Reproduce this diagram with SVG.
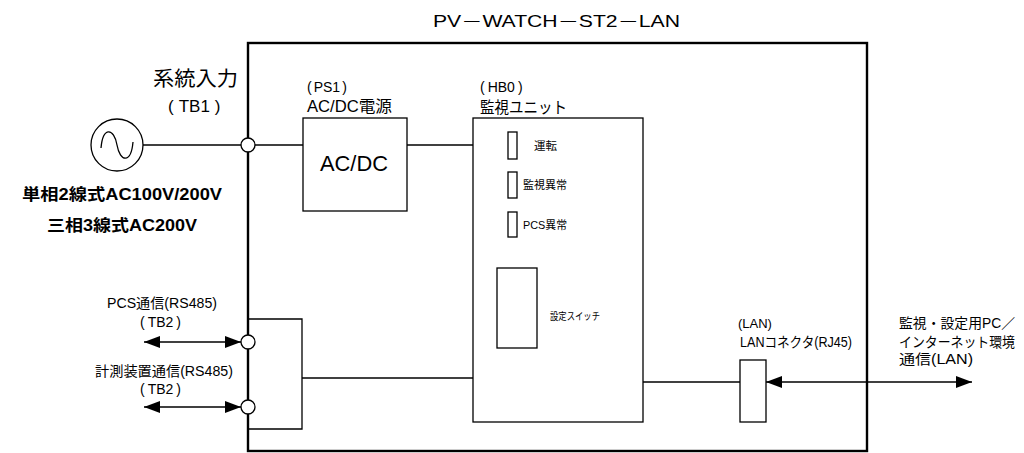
<svg xmlns="http://www.w3.org/2000/svg" width="1024" height="453" viewBox="0 0 1024 453">
<defs>
<style>
text{font-family:"Liberation Sans","Noto Sans CJK JP",sans-serif;fill:#000}
.ln{stroke:#000;stroke-width:1.3;fill:none}
.bx{stroke:#000;stroke-width:1.3;fill:#fff}
.term{stroke:#000;stroke-width:1.3;fill:#fff}
</style>
<marker id="ah" viewBox="0 0 16 12" refX="16" refY="6" markerWidth="16" markerHeight="12" markerUnits="userSpaceOnUse" orient="auto-start-reverse">
<path d="M0,0 L16,6 L0,12 Z" fill="#000"/>
</marker>
</defs>
<rect width="1024" height="453" fill="#fff"/>
<g id="title"><text x="433" y="27" font-size="16" textLength="247" lengthAdjust="spacingAndGlyphs">PV－WATCH－ST2－LAN</text></g>
<g id="outer"><rect x="248" y="43" width="619" height="408" fill="none" stroke="#000" stroke-width="2.4"/></g>
<g id="connectors">
<path class="ln" d="M143,145 H303"/>
<path class="ln" d="M407,145 H473"/>
<path class="ln" d="M248,319 H302 V429 H248"/>
<path class="ln" d="M302,378 H473"/>
<path class="ln" d="M643,382 H740"/>
<path class="ln" d="M144,342 H241" marker-start="url(#ah)" marker-end="url(#ah)"/>
<path class="ln" d="M144,407 H241" marker-start="url(#ah)" marker-end="url(#ah)"/>
<path class="ln" d="M766,382 H972" marker-start="url(#ah)" marker-end="url(#ah)"/>
</g>
<g id="source">
<circle cx="117" cy="145" r="26" class="bx"/>
<path class="ln" d="M101,148 C103,126 114,128 117,145 C120,162 131,164 133,142"/>
<text x="153" y="86" font-size="20" textLength="85" lengthAdjust="spacingAndGlyphs">系統入力</text>
<text x="168" y="112" font-size="17">(<tspan dx="5">TB1</tspan><tspan dx="5">)</tspan></text>
<text x="22" y="200" font-size="16" font-weight="bold" textLength="200" lengthAdjust="spacingAndGlyphs">単相2線式AC100V/200V</text>
<text x="47" y="231" font-size="16" font-weight="bold" textLength="150" lengthAdjust="spacingAndGlyphs">三相3線式AC200V</text>
</g>
<g id="tb1"><circle cx="248" cy="145" r="7" class="term"/></g>
<g id="ps1">
<rect x="303" y="118" width="104" height="93" class="bx"/>
<text x="320" y="171" font-size="22" textLength="68" lengthAdjust="spacingAndGlyphs">AC/DC</text>
<text x="307" y="92" font-size="14">(<tspan dx="2">PS1</tspan><tspan dx="2">)</tspan></text>
<text x="307" y="112" font-size="16" textLength="85" lengthAdjust="spacingAndGlyphs">AC/DC電源</text>
</g>
<g id="hb0">
<rect x="473" y="118" width="170" height="304" class="bx"/>
<text x="480" y="92" font-size="14">(<tspan dx="3">HB0</tspan><tspan dx="3">)</tspan></text>
<text x="480" y="113" font-size="16" textLength="87" lengthAdjust="spacingAndGlyphs">監視ユニット</text>
<rect x="508" y="132" width="9" height="27" class="bx"/>
<text x="534" y="150" font-size="11" textLength="23" lengthAdjust="spacingAndGlyphs">運転</text>
<rect x="508" y="172" width="9" height="26" class="bx"/>
<text x="523" y="189" font-size="11" textLength="44" lengthAdjust="spacingAndGlyphs">監視異常</text>
<rect x="508" y="212" width="9" height="25" class="bx"/>
<text x="523" y="229" font-size="11" textLength="44" lengthAdjust="spacingAndGlyphs">PCS異常</text>
<rect x="497" y="268" width="40" height="80" class="bx"/>
<text x="550" y="320" font-size="10" textLength="50" lengthAdjust="spacingAndGlyphs">設定スイッチ</text>
</g>
<g id="tb2">
<circle cx="248" cy="342" r="7" class="term"/>
<circle cx="248" cy="407" r="7" class="term"/>
<text x="107" y="308" font-size="14" textLength="110" lengthAdjust="spacingAndGlyphs">PCS通信(RS485)</text>
<text x="140" y="327" font-size="14">(<tspan dx="3">TB2</tspan><tspan dx="3">)</tspan></text>
<text x="95" y="376" font-size="14" textLength="138" lengthAdjust="spacingAndGlyphs">計測装置通信(RS485)</text>
<text x="140" y="394" font-size="14">(<tspan dx="3">TB2</tspan><tspan dx="3">)</tspan></text>
</g>
<g id="lan">
<rect x="740" y="360" width="26" height="62" class="bx"/>
<text x="738" y="328" font-size="13">(LAN)</text>
<text x="740" y="347" font-size="14" textLength="112" lengthAdjust="spacingAndGlyphs">LANコネクタ(RJ45)</text>
</g>
<g id="pc">
<text x="899" y="328" font-size="14" textLength="116" lengthAdjust="spacingAndGlyphs">監視・設定用PC／</text>
<text x="899" y="347" font-size="14" textLength="116" lengthAdjust="spacingAndGlyphs">インターネット環境</text>
<text x="899" y="364" font-size="14" textLength="74" lengthAdjust="spacingAndGlyphs">通信(LAN)</text>
</g>
</svg>
